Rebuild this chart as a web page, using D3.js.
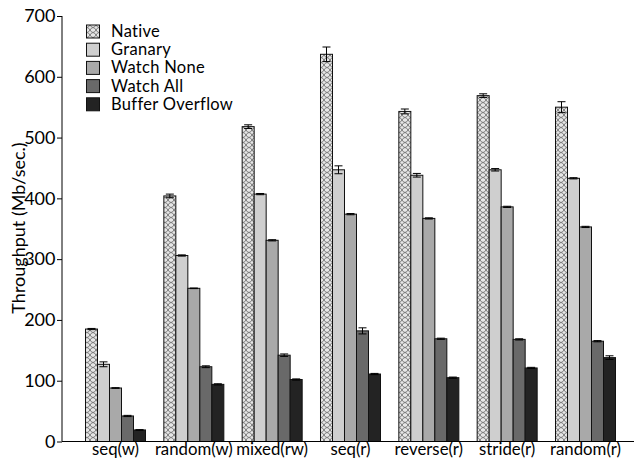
<!DOCTYPE html>
<html><head><meta charset="utf-8">
<script src="https://cdn.jsdelivr.net/npm/d3@7"></script>
<style>body{margin:0;background:#fff}svg{display:block;font-family:Lato,"Open Sans",sans-serif}</style>
</head><body><svg id="c" width="634" height="460"></svg>
<script>
const categories = ["seq(w)","random(w)","mixed(rw)","seq(r)","reverse(r)","stride(r)","random(r)"];
const seriesNames = ["Native","Granary","Watch None","Watch All","Buffer Overflow"];
const native     = [185, 404, 518, 637, 543, 569, 550];
const granary    = [127, 306, 407, 447, 438, 447, 433];
const watchNone  = [88, 252, 331, 374, 367, 386, 353];
const watchAll   = [42, 123, 142, 182, 169, 168, 165];
const bufferOvf  = [19, 94, 102, 111, 105, 121, 138];
const nativeErr    = [1, 3, 3, 12, 4, 3, 9];
const granaryErr   = [4, 1, 1, 6.5, 3, 2, 1];
const watchNoneErr = [0.5, 0.5, 1, 1, 1, 1, 1];
const watchAllErr  = [1, 1.5, 2, 5, 1, 1, 1];
const bufferOvfErr = [0.5, 1, 1, 1, 1, 1, 3];
const yTicks = [0,100,200,300,400,500,600,700];

const values = [native, granary, watchNone, watchAll, bufferOvf];
const errs = [nativeErr, granaryErr, watchNoneErr, watchAllErr, bufferOvfErr];
const fills = ["url(#hatch)", "#cfcfcf", "#a9a9a9", "#696969", "#232323"];
const FONT = "Lato,'Open Sans',sans-serif";

const svg = d3.select("#c");
const defs = svg.append("defs");
const pat = defs.append("pattern").attr("id","hatch").attr("patternUnits","userSpaceOnUse")
  .attr("width",6).attr("height",5);
pat.append("rect").attr("width",6).attr("height",5).attr("fill","#e6e6e6");
pat.append("path").attr("d","M0,0 Q3,5 6,0 M0,5 Q3,0 6,5").attr("fill","none").attr("stroke","#7a7a7a").attr("stroke-width",1);

const y = d3.scaleLinear().domain([0,700]).range([441.5,16]);
const x0 = d3.scaleBand().domain(categories).range([85.5,615.5]).paddingInner(0.234).paddingOuter(0);
const x1 = d3.scaleBand().domain(seriesNames).range([0, x0.bandwidth()]).padding(0);

// bars
const g = svg.append("g");
categories.forEach((c,i)=>{
  seriesNames.forEach((s,j)=>{
    const v = values[j][i];
    const bx = x0(c)+x1(s);
    g.append("rect").attr("x",bx).attr("y",y(v)).attr("width",x1.bandwidth()).attr("height",y(0)-y(v))
      .attr("fill",fills[j]).attr("stroke","#111").attr("stroke-width",1);
    const e = errs[j][i];
    const cx = bx + x1.bandwidth()/2;
    const ep = g.append("g").attr("stroke","#000").attr("stroke-width",1);
    ep.append("line").attr("x1",cx).attr("x2",cx).attr("y1",y(v+e)).attr("y2",y(v-e));
    ep.append("line").attr("x1",cx-4).attr("x2",cx+4).attr("y1",y(v+e)).attr("y2",y(v+e));
    ep.append("line").attr("x1",cx-4).attr("x2",cx+4).attr("y1",y(v-e)).attr("y2",y(v-e));
  });
});

// y axis
const ya = svg.append("g").attr("transform","translate(62,0)")
  .call(d3.axisLeft(y).tickValues(yTicks).tickSize(5).tickPadding(1.5).tickFormat(d3.format("d")));
ya.select(".domain").attr("stroke","#000").attr("d","M0,16V441.5");
ya.selectAll("text").attr("font-size",18).attr("fill","#000").attr("font-family",FONT);
ya.selectAll(".tick line").attr("stroke","#000");

// x axis
const xa = svg.append("g").attr("transform","translate(0,441.5)")
  .call(d3.axisBottom(x0).tickSize(0).tickPadding(1.5));
xa.select(".domain").attr("stroke","#000").attr("d","M62,0H634");
xa.selectAll("text").attr("font-size",16.8).attr("fill","#000").attr("font-family",FONT);

// y title
svg.append("text").attr("transform","translate(25,228) rotate(-90)").attr("text-anchor","middle")
  .attr("font-size",18).attr("fill","#000").attr("font-family",FONT).text("Throughput (Mb/sec.)");

// legend
const lg = svg.append("g");
seriesNames.forEach((s,j)=>{
  const yy = 25 + j*18.2;
  lg.append("rect").attr("x",86.5).attr("y",yy).attr("width",13).attr("height",13)
    .attr("fill",fills[j]).attr("stroke","#111").attr("stroke-width",1);
  lg.append("text").attr("x",111).attr("y",yy+12).attr("font-size",16.5).attr("letter-spacing",0.3)
    .attr("fill","#000").attr("font-family",FONT).text(s);
});
</script></body></html>
